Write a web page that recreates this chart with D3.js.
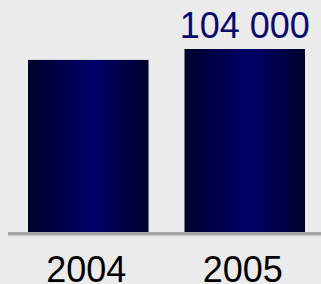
<!DOCTYPE html>
<html>
<head>
<meta charset="utf-8">
<script src="https://cdn.jsdelivr.net/npm/d3@7"></script>
<style>
  html, body { margin: 0; padding: 0; background: #ebebeb; }
  svg { display: block; }
</style>
</head>
<body>
<script>
var years = ["2004", "2005"];
var values = [97800, 104000];
var valueLabels = ["", "104 000"];

var width = 321, height = 284;
var baseY = 232;

var svg = d3.select("body").append("svg")
    .attr("width", width)
    .attr("height", height);

svg.append("rect")
    .attr("width", width)
    .attr("height", height)
    .attr("fill", "#ebebeb");

// bar shading, dark edges with a lighter middle
var grad = svg.append("defs").append("linearGradient")
    .attr("id", "barGrad")
    .attr("x1", "0%").attr("x2", "100%")
    .attr("y1", "0%").attr("y2", "0%");
grad.append("stop").attr("offset", "0%").attr("stop-color", "#00002a");
grad.append("stop").attr("offset", "54%").attr("stop-color", "#000068");
grad.append("stop").attr("offset", "100%").attr("stop-color", "#00002e");

var x = d3.scaleBand()
    .domain(years)
    .range([10, 323])
    .paddingInner(0.23)
    .paddingOuter(0.115);

var y = d3.scaleLinear()
    .domain([0, 104000])
    .range([baseY, 49]);

svg.selectAll(".bar")
    .data(years)
    .enter().append("rect")
    .attr("class", "bar")
    .attr("x", function (d) { return x(d); })
    .attr("y", function (d, i) { return y(values[i]); })
    .attr("width", x.bandwidth())
    .attr("height", function (d, i) { return baseY - y(values[i]); })
    .attr("fill", "url(#barGrad)");

// baseline with a soft shadow
svg.append("line")
    .attr("x1", 8).attr("x2", width)
    .attr("y1", baseY + 3.5).attr("y2", baseY + 3.5)
    .attr("stroke", "#c8c8c8")
    .attr("stroke-width", 1);
svg.append("line")
    .attr("x1", 8).attr("x2", width)
    .attr("y1", baseY + 1.5).attr("y2", baseY + 1.5)
    .attr("stroke", "#9a9a9a")
    .attr("stroke-width", 2.5);

svg.selectAll(".val")
    .data(years)
    .enter().append("text")
    .attr("class", "val")
    .attr("x", function (d) { return x(d) + x.bandwidth() / 2; })
    .attr("y", function (d, i) { return y(values[i]) - 11; })
    .attr("text-anchor", "middle")
    .attr("font-family", "Liberation Sans, Arial, sans-serif")
    .attr("font-size", 36)
    .attr("fill", "#0a0a6a")
    .text(function (d, i) { return valueLabels[i]; });

svg.selectAll(".year")
    .data(years)
    .enter().append("text")
    .attr("class", "year")
    .attr("x", function (d) { return x(d) + x.bandwidth() / 2 - 2; })
    .attr("y", 282)
    .attr("text-anchor", "middle")
    .attr("font-family", "Liberation Sans, Arial, sans-serif")
    .attr("font-size", 36)
    .attr("fill", "#000")
    .text(function (d) { return d; });
</script>
</body>
</html>
